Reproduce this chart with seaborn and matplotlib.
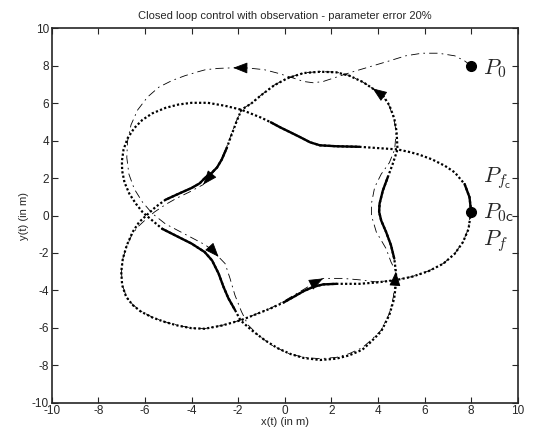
import numpy as np
import matplotlib
matplotlib.use('Agg')
import matplotlib.pyplot as plt
import seaborn as sns

# reference trajectory (closed), starting at P0c
ref_x = [8.00, 7.93, 7.72, 7.30, 6.88, 6.32, 5.75, 5.33, 4.84, 3.93,
         3.20, 2.21, 1.51, 1.09, 0.67, 0.25, -0.18, -0.60, -1.02, -1.44,
         -1.86, -2.56, -3.30, -4.00, -4.56, -5.12, -5.68, -6.11, -6.46, -6.74,
         -6.92, -6.99, -6.98, -6.88, -6.67, -6.39, -6.11, -5.94, -5.26, -4.56,
         -4.00, -3.44, -3.12, -2.84, -2.63, -2.42, -2.14, -1.90, -1.44, -0.88,
         -0.32, 0.25, 0.81, 1.51, 2.21, 2.77, 3.33, 3.65, 4.14, 4.49,
         4.70, 4.79, 4.77, 4.70, 4.56, 4.35, 4.14, 4.05, 4.07, 4.21,
         4.42, 4.63, 4.77, 4.84, 4.80, 4.70, 4.49, 4.21, 3.79, 3.37,
         2.77, 2.21, 1.51, 0.81, 0.11, -0.46, -1.02, -1.44, -1.86, -2.07,
         -2.28, -2.49, -2.70, -2.91, -3.19, -3.40, -3.65, -4.00, -4.56, -5.12,
         -5.54, -5.94, -6.25, -6.53, -6.78, -6.95, -7.02, -6.98, -6.81, -6.53,
         -6.18, -5.68, -5.12, -4.56, -4.00, -3.44, -2.70, -1.90, -1.30, -0.60,
         -0.04, 0.39, 0.81, 1.23, 1.65, 2.21, 3.20, 3.93, 4.77, 5.47,
         6.18, 6.81, 7.30, 7.65, 7.89, 7.97, 8.00]
ref_y = [0.20, 0.98, 1.68, 2.30, 2.65, 3.00, 3.26, 3.40, 3.53, 3.61,
         3.67, 3.70, 3.75, 3.91, 4.18, 4.44, 4.70, 4.98, 5.23, 5.44,
         5.65, 5.86, 6.02, 6.02, 5.93, 5.75, 5.46, 5.11, 4.67, 4.14,
         3.53, 2.91, 2.39, 1.77, 1.16, 0.63, 0.19, 0.00, -0.71, -1.15,
         -1.50, -1.95, -2.40, -3.10, -3.81, -4.42, -5.04, -5.60, -6.11, -6.64,
         -7.08, -7.40, -7.61, -7.72, -7.65, -7.47, -7.17, -6.81, -6.19, -5.31,
         -4.42, -3.45, -3.00, -2.30, -1.59, -0.88, -0.27, 0.20, 0.63, 1.33,
         2.04, 2.74, 3.26, 3.53, 4.49, 5.19, 5.89, 6.42, 6.77, 7.12,
         7.47, 7.65, 7.68, 7.61, 7.33, 6.95, 6.42, 5.98, 5.65, 5.02,
         4.32, 3.61, 3.00, 2.56, 2.21, 2.04, 1.72, 1.47, 1.16, 0.84,
         0.46, 0.00, -0.35, -0.88, -1.59, -2.30, -3.01, -3.72, -4.34, -4.78,
         -5.13, -5.45, -5.70, -5.89, -6.02, -6.05, -5.88, -5.60, -5.31, -4.96,
         -4.64, -4.34, -4.04, -3.81, -3.68, -3.65, -3.65, -3.58, -3.45, -3.27,
         -2.97, -2.57, -2.04, -1.42, -0.72, 0.00, 0.20]

# index ranges of the reference where the dots merge into a solid line
solid_parts = [(0, 2), (10, 17), (38, 46), (63, 70), (91, 99), (120, 125)]

# closed loop trajectory (dash-dot), from P0
traj_x = [8.00, 7.72, 7.30, 6.60, 5.89, 5.19, 4.49, 3.79, 3.20, 2.77,
          2.21, 1.65, 1.23, 0.81, 0.25, -0.32, -0.88, -1.58, -2.21, -2.84,
          -3.40, -3.72, -4.28, -4.84, -5.40, -5.89, -6.32, -6.60, -6.75, -6.78,
          -6.69, -6.46, -6.11, -5.68, -5.12, -4.28, -3.44, -3.10, -2.84, -2.56,
          -2.35, -2.14, -1.86, -1.58, -1.16, -0.60, 0.11, 0.81, 1.51, 2.21,
          2.77, 3.33, 3.65, 4.14, 4.49, 4.66, 4.74, 4.77, 4.56, 4.35,
          3.93, 3.72, 3.72, 3.86, 4.14, 4.49, 4.72, 4.78, 4.68, 4.47,
          4.19, 3.77, 3.35, 2.77, 2.21, 1.51, 0.81, 0.11, -0.46, -1.02,
          -1.44, -1.86, -2.08, -2.30, -2.52, -2.78, -3.08, -3.50, -4.10, -4.60,
          -5.10, -5.60, -6.00, -6.30, -6.55, -6.78, -6.95, -7.01, -6.97, -6.80,
          -6.52, -6.17, -5.67, -5.11, -4.55, -3.99, -3.43, -2.70, -1.90, -1.30,
          -0.60, 0.00, 0.40, 0.81, 1.23, 1.65, 2.49, 3.33, 3.93, 4.77,
          5.47, 6.18, 6.81, 7.30, 7.65, 7.88, 7.95]
traj_y = [8.00, 8.26, 8.53, 8.67, 8.67, 8.53, 8.26, 8.00, 7.78, 7.62,
          7.39, 7.16, 7.09, 7.16, 7.39, 7.61, 7.79, 7.88, 7.89, 7.86,
          7.79, 7.68, 7.47, 7.21, 6.86, 6.33, 5.63, 4.84, 3.96, 3.09,
          2.21, 1.42, 0.72, 0.10, -0.45, -1.00, -1.55, -1.85, -2.21, -2.57,
          -3.36, -4.25, -5.13, -5.84, -6.37, -6.90, -7.35, -7.58, -7.65, -7.58,
          -7.38, -7.06, -6.72, -6.13, -5.24, -4.36, -3.54, -3.00, -2.48, -1.77,
          -0.88, 0.00, 0.63, 1.51, 2.21, 2.82, 3.53, 4.49, 5.19, 5.89,
          6.42, 6.79, 7.13, 7.48, 7.66, 7.69, 7.62, 7.34, 6.96, 6.43,
          5.99, 5.66, 5.03, 4.32, 3.58, 2.85, 2.28, 1.65, 1.25, 0.95,
          0.60, 0.18, -0.25, -0.60, -1.00, -1.62, -2.30, -3.01, -3.72, -4.33,
          -4.77, -5.12, -5.44, -5.69, -5.88, -6.01, -6.04, -5.87, -5.59, -5.30,
          -4.95, -4.55, -4.25, -3.95, -3.63, -3.36, -3.36, -3.45, -3.55, -3.45,
          -3.26, -2.96, -2.56, -2.03, -1.41, -0.72, -0.10]

# points of the trajectory carrying a direction arrow
arrow_idx = [18, 38, 57, 71, 87, 115]

P0 = (8.0, 8.0)
P0c = (8.0, 0.2)

sns.set_style('ticks')
plt.rcParams['font.family'] = ['Liberation Sans', 'DejaVu Sans']
plt.rcParams['mathtext.fontset'] = 'cm'
plt.rcParams['axes.unicode_minus'] = False

fig = plt.figure(figsize=(5.34, 4.33), dpi=100)
ax = fig.add_axes([0.097, 0.070, 0.8725, 0.8646])

# reference, dotted
sns.lineplot(x=ref_x, y=ref_y, sort=False, estimator=None, ax=ax, color='k',
             lw=1.6, linestyle=(0, (1, 1)))
for i0, i1 in solid_parts:
    sns.lineplot(x=ref_x[i0:i1 + 1], y=ref_y[i0:i1 + 1], sort=False,
                 estimator=None, ax=ax, color='k', lw=1.7)

# trajectory, dash-dot
sns.lineplot(x=traj_x, y=traj_y, sort=False, estimator=None, ax=ax, color='k',
             lw=0.6, linestyle=(0, (10, 5, 2, 5)))

for i in arrow_idx:
    dx = traj_x[i] - traj_x[i - 1]
    dy = traj_y[i] - traj_y[i - 1]
    n = np.hypot(dx, dy)
    ax.annotate('', xy=(traj_x[i], traj_y[i]),
                xytext=(traj_x[i] - 0.3 * dx / n, traj_y[i] - 0.3 * dy / n),
                arrowprops=dict(arrowstyle='-|>,head_length=0.9,head_width=0.35',
                                color='k', lw=0.6, mutation_scale=10,
                                shrinkA=0, shrinkB=0))

ax.plot(*P0, 'o', color='k', ms=7)
ax.plot(*P0c, 'o', color='k', ms=7)
ax.text(8.5, 7.85, r'$P_{\mathsf{0}}$', fontsize=16, va='center', ha='left')
ax.text(8.5, 2.0, r'$P_{f_{\mathsf{c}}}$', fontsize=16, va='center', ha='left')
ax.text(8.5, 0.15, r'$P_{\mathsf{0c}}$', fontsize=16, va='center', ha='left')
ax.text(8.5, -1.35, r'$P_f$', fontsize=16, va='center', ha='left')

ax.set_xlim(-10, 10)
ax.set_ylim(-10, 10)
ax.set_xticks(range(-10, 11, 2))
ax.set_yticks(range(-10, 11, 2))
ax.tick_params(direction='in', top=True, right=True, length=4, width=0.8,
               labelsize=8.5, pad=2)
for s in ax.spines.values():
    s.set_linewidth(1.2)
ax.set_xlabel('x(t) (in m)', fontsize=8, labelpad=0)
ax.set_ylabel('y(t) (in m)', fontsize=8, labelpad=2)
ax.set_title('Closed loop control with observation - parameter error 20%',
             fontsize=8, pad=7)

fig.savefig('out.png', dpi=100)
